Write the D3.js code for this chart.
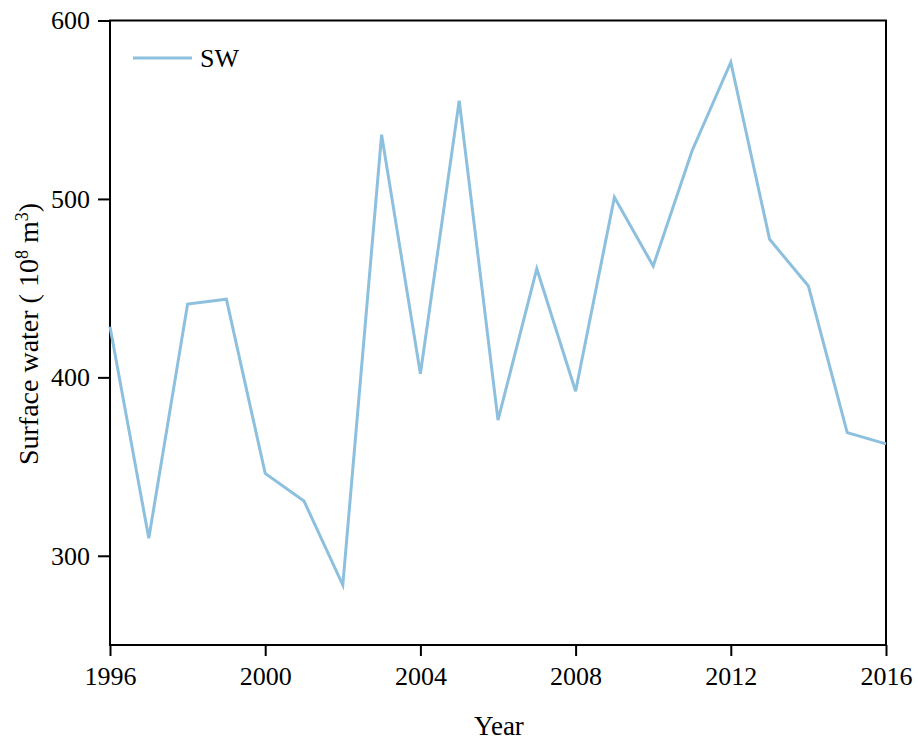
<!DOCTYPE html>
<html><head><meta charset="utf-8">
<script src="https://cdn.jsdelivr.net/npm/d3@7"></script>
<style>
html,body{margin:0;padding:0;background:#fff;}
text{font-family:"Liberation Serif","Times New Roman",serif;fill:#000;}
</style></head>
<body><svg id="chart" width="918" height="742"></svg>
<script>
const years = [1996,1997,1998,1999,2000,2001,2002,2003,2004,2005,2006,2007,2008,2009,2010,2011,2012,2013,2014,2015,2016];
const swValues = [428.4,309.8,441.1,443.8,346.2,330.7,283.6,536,402,555,376,460.9,392.2,500.9,462.4,526.9,576.6,477.4,451.2,369,362.7];
const xTicks = [1996,2000,2004,2008,2012,2016];
const yTicks = [300,400,500,600];
const seriesName = "SW";

const svg = d3.select("#chart");
const L=110, R=886, T=20.5, B=645;
const x = d3.scaleLinear().domain([1996,2016]).range([L,R]);
const y = d3.scaleLinear().domain([250,600]).range([B,T]);

const xAxis = svg.append("g").attr("transform",`translate(0,${B})`)
  .call(d3.axisBottom(x).tickValues(xTicks).tickFormat(d3.format("d")).tickSize(11).tickPadding(11));
const yAxis = svg.append("g").attr("transform",`translate(${L},0)`)
  .call(d3.axisLeft(y).tickValues(yTicks).tickSize(12).tickPadding(8));
[xAxis,yAxis].forEach(g=>{
  g.attr("font-family",null).attr("font-size",null);
  g.select(".domain").remove();
  g.selectAll("line").attr("stroke","#000").attr("stroke-width",2);
  g.selectAll("text").style("font-size","26px").style("font-family","'Liberation Serif',serif").attr("fill","#000");
});

// frame
svg.append("rect").attr("x",L).attr("y",T).attr("width",R-L).attr("height",B-T)
  .attr("fill","none").attr("stroke","#000").attr("stroke-width",2);

const line = d3.line().x((d,i)=>x(years[i])).y(d=>y(d));
svg.append("path").datum(swValues).attr("d",line)
  .attr("fill","none").attr("stroke","#8dc0de").attr("stroke-width",3).attr("stroke-linejoin","miter");

// legend
svg.append("line").attr("x1",133).attr("x2",192).attr("y1",58).attr("y2",58)
  .attr("stroke","#8dc0de").attr("stroke-width",3);
svg.append("text").attr("x",200).attr("y",67).style("font-size","26px").text(seriesName);

// axis titles
svg.append("text").attr("x",(L+R)/2+1).attr("y",735).attr("text-anchor","middle")
  .style("font-size","27px").text("Year");
const yl = svg.append("text").attr("transform",`translate(38,334) rotate(-90)`)
  .attr("text-anchor","middle").style("font-size","28px");
yl.append("tspan").text("Surface water ( 10");
yl.append("tspan").attr("dy",-10).style("font-size","18px").text("8");
yl.append("tspan").attr("dy",10).text(" m");
yl.append("tspan").attr("dy",-10).style("font-size","18px").text("3");
yl.append("tspan").attr("dy",10).text(")");
</script></body></html>
